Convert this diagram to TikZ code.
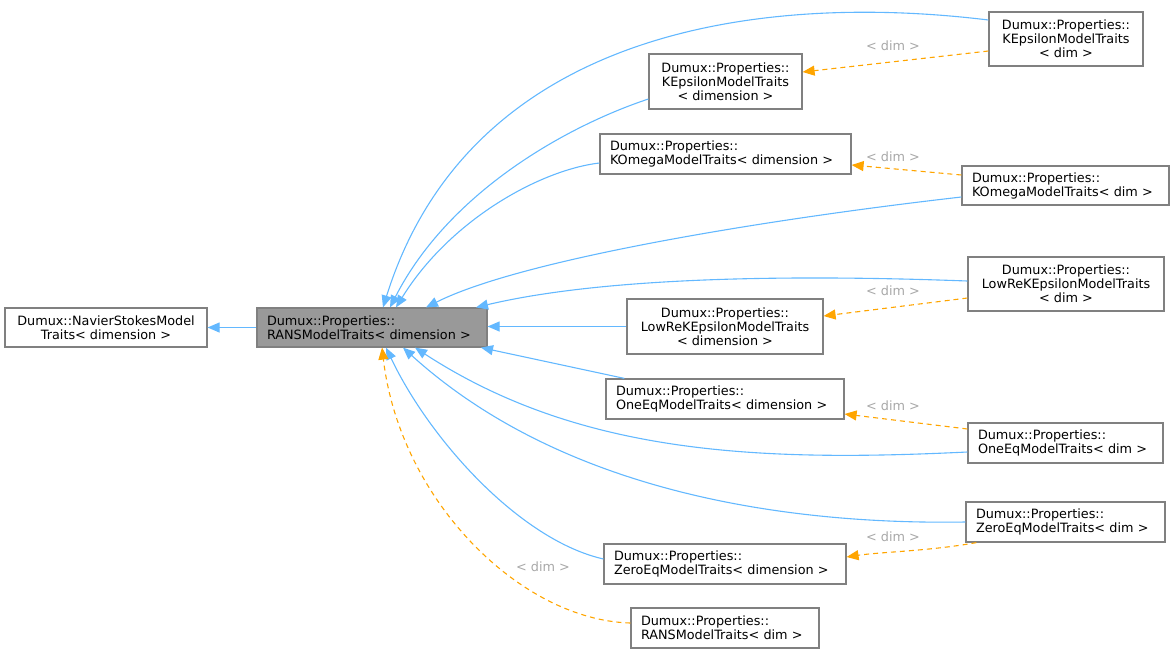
\documentclass[tikz,border=0pt]{standalone}
\usepackage{fontspec}
\setmainfont{DejaVu Sans}
\usetikzlibrary{arrows.meta}
\definecolor{edgeblue}{HTML}{63B8FF}
\definecolor{edgeorange}{HTML}{FFA500}
\definecolor{boxgray}{HTML}{808080}
\definecolor{fillgray}{HTML}{999999}
\definecolor{labelgray}{HTML}{A8A8A8}
\begin{document}
\begin{tikzpicture}[x=1pt,y=-1pt,
  every node/.style={font=\fontsize{12.8}{14}\selectfont},
  box/.style={draw=boxgray, line width=1.2pt, fill=white, inner sep=0pt, text=black},
  cbox/.style={box, align=center},
  lbox/.style={box, align=left},
  inh/.style={draw=edgeblue, line width=1.1pt, -{Triangle[length=12pt,width=10pt]}},
  tmpl/.style={draw=edgeorange, line width=1.1pt, dash pattern=on 5pt off 4pt, -{Triangle[length=12pt,width=10pt]}},
  lbl/.style={text=labelgray, inner sep=0pt}]
\useasboundingbox (0,0) rectangle (1175,654);
% nodes
\node[cbox, minimum width=202pt, minimum height=39pt] (ns) at (106,327.5) {Dumux::NavierStokesModel\\Traits< dimension >};
\node[lbox, fill=fillgray, minimum width=230pt, minimum height=39pt, text width=210pt] (rans) at (372,327.5) {Dumux::Properties::\\RANSModelTraits< dimension >};
\node[cbox, minimum width=154pt, minimum height=54pt] (kepsdim) at (1066,39) {Dumux::Properties::\\KEpsilonModelTraits\\< dim >};
\node[cbox, minimum width=153pt, minimum height=55pt] (kepsdimn) at (725.5,81.5) {Dumux::Properties::\\KEpsilonModelTraits\\< dimension >};
\node[lbox, minimum width=251pt, minimum height=40pt, text width=231pt] (komdimn) at (725.5,154) {Dumux::Properties::\\KOmegaModelTraits< dimension >};
\node[lbox, minimum width=207pt, minimum height=39pt, text width=187pt] (komdim) at (1065.5,185.5) {Dumux::Properties::\\KOmegaModelTraits< dim >};
\node[cbox, minimum width=196pt, minimum height=54pt] (lowredim) at (1066,284) {Dumux::Properties::\\LowReKEpsilonModelTraits\\< dim >};
\node[cbox, minimum width=196pt, minimum height=55pt] (lowredimn) at (725,326.5) {Dumux::Properties::\\LowReKEpsilonModelTraits\\< dimension >};
\node[lbox, minimum width=238pt, minimum height=40pt, text width=218pt] (oneeqdimn) at (725,399) {Dumux::Properties::\\OneEqModelTraits< dimension >};
\node[lbox, minimum width=195pt, minimum height=40pt, text width=175pt] (oneeqdim) at (1065.5,443) {Dumux::Properties::\\OneEqModelTraits< dim >};
\node[lbox, minimum width=199pt, minimum height=40pt, text width=179pt] (zeroeqdim) at (1065.5,522) {Dumux::Properties::\\ZeroEqModelTraits< dim >};
\node[lbox, minimum width=242pt, minimum height=40pt, text width=222pt] (zeroeqdimn) at (725,564) {Dumux::Properties::\\ZeroEqModelTraits< dimension >};
\node[lbox, minimum width=188pt, minimum height=40pt, text width=168pt] (ransdim) at (725,628) {Dumux::Properties::\\RANSModelTraits< dim >};
% inheritance edges
\draw[inh] (rans.west) -- (ns.east);
\draw[inh] ([yshift=19pt]kepsdim.west) .. controls (760,-8) and (470,30) .. ([xshift=11pt]rans.north);
\draw[inh] ([yshift=-17.5pt]kepsdimn.west) .. controls (570,125) and (450,190) .. ([xshift=18pt]rans.north);
\draw[inh] ([yshift=-9pt]komdimn.west) .. controls (540,170) and (450,220) .. ([xshift=24pt]rans.north);
\draw[inh] ([yshift=-11.5pt]komdim.west) .. controls (760,220) and (520,260) .. ([xshift=54pt]rans.north);
\draw[inh] ([yshift=3pt]lowredim.west) .. controls (780,274) and (600,278) .. ([xshift=104pt]rans.north);
\draw[inh] (lowredimn.west) -- (lowredimn.west -| rans.east);
\draw[inh] ([xshift=19pt]oneeqdimn.north west) -- ([xshift=109pt]rans.south);
\draw[inh] ([yshift=-9pt]oneeqdim.west) .. controls (760,462) and (580,455) .. ([xshift=43pt]rans.south);
\draw[inh] (zeroeqdim.west) .. controls (780,525) and (560,490) .. ([xshift=31pt]rans.south);
\draw[inh] ([yshift=5pt]zeroeqdimn.west) .. controls (520,540) and (430,440) .. ([xshift=14pt]rans.south);
% template edges
\draw[tmpl] ([yshift=5pt]ransdim.west) .. controls (520,620) and (400,500) .. ([xshift=10pt]rans.south);
\draw[tmpl] ([yshift=-12pt]kepsdim.west) -- ([yshift=9.5pt]kepsdimn.east);
\draw[tmpl] ([yshift=10.5pt]komdim.west) -- ([yshift=-11pt]komdimn.east);
\draw[tmpl] ([yshift=-14pt]lowredim.west) -- ([yshift=10.5pt]lowredimn.east);
\draw[tmpl] ([yshift=14pt]oneeqdim.west) -- ([yshift=-15pt]oneeqdimn.east);
\draw[tmpl] ([xshift=11pt]zeroeqdim.south west) .. controls (930,551) and (880,552) .. ([yshift=7pt]zeroeqdimn.east);
% labels
\node[lbl] (l1) at (893,46) {< dim >};
\node[lbl] (l2) at (893,157) {< dim >};
\node[lbl] (l3) at (893,291) {< dim >};
\node[lbl] (l4) at (893,406) {< dim >};
\node[lbl] (l5) at (893,537) {< dim >};
\node[lbl] (l6) at (543,567) {< dim >};
\end{tikzpicture}
\end{document}
